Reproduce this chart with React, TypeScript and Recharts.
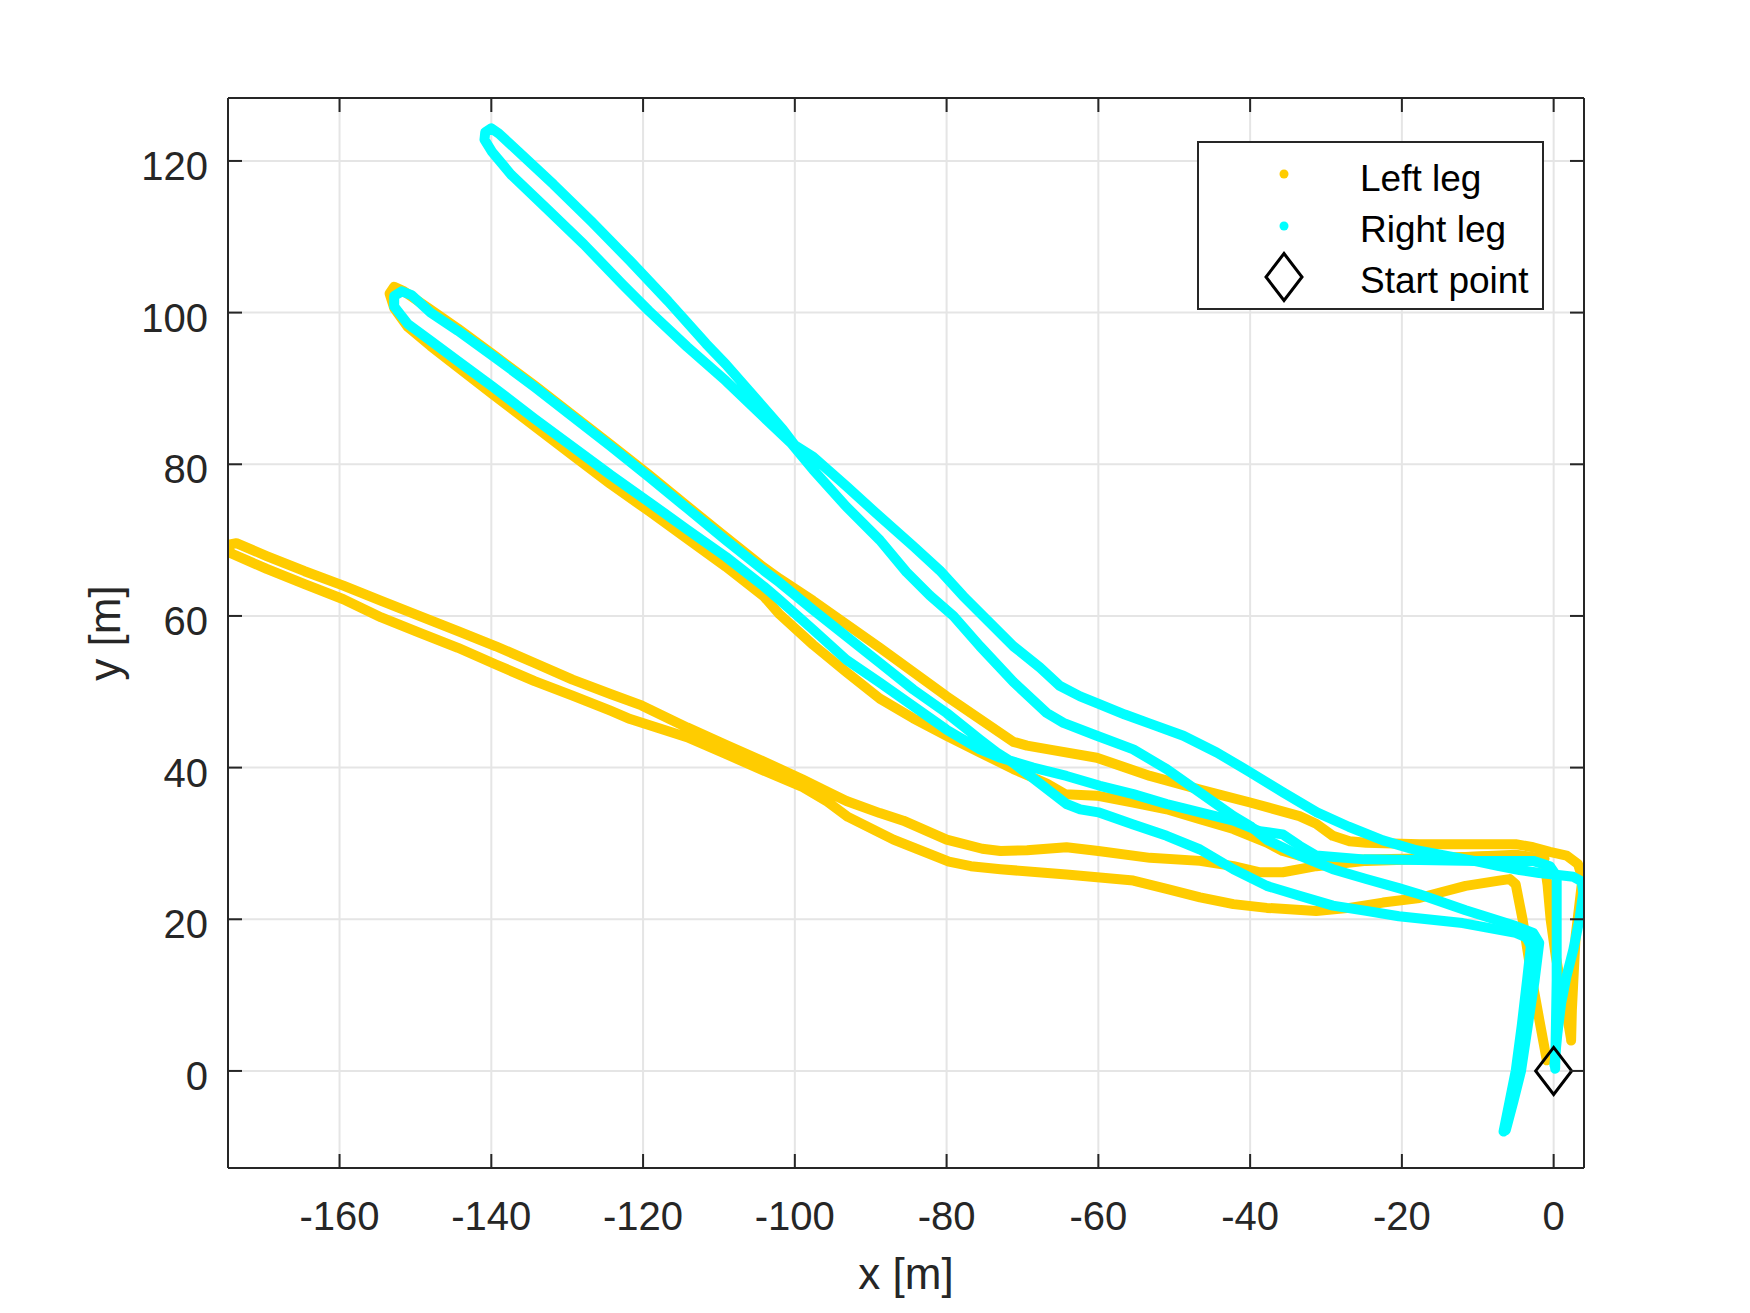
import {
  CartesianGrid,
  ComposedChart,
  Legend,
  Line,
  Scatter,
  XAxis,
  YAxis,
} from "recharts";

document.body.style.margin = "0";

const INK = "#262626";
const FONT = '"Liberation Sans", Arial, Helvetica, sans-serif';
const LEFT_COLOR = "#FFCC00";
const RIGHT_COLOR = "#00FFFF";

const xTicks = [-160, -140, -120, -100, -80, -60, -40, -20, 0];
const yTicks = [0, 20, 40, 60, 80, 100, 120];
const xDomain = [-174.7, 4.0];
const yDomain = [-12.8, 128.3];

const legendLabels = ["Left leg", "Right leg", "Start point"];

// left leg, first walk (tip near -175, 69)
const leftLegWalk1: [number, number][] = [
  [-1.2, 28.0], [-5, 28.5], [-11.6, 28.2], [-17.7, 27.9], [-24.7, 27.7], [-31.3, 27],
  [-35.7, 26.2], [-38.7, 26.2], [-42.2, 27], [-46.6, 27.7], [-53.2, 28.1], [-60, 29],
  [-64.2, 29.5], [-69.4, 29.1], [-72.9, 29], [-75.3, 29.3], [-80, 30.5], [-85.7, 33],
  [-88.8, 34], [-93.2, 35.6], [-95.7, 36.8], [-99.1, 38.5], [-104.1, 40.8], [-109.1, 43],
  [-114.2, 45.3], [-120.2, 48.2], [-124.3, 49.7], [-129.3, 51.6], [-134.3, 53.8],
  [-139.4, 56], [-144.4, 58], [-149.5, 60], [-154.5, 62], [-159.5, 64], [-164.6, 65.9],
  [-169.6, 67.9], [-173.6, 69.6], [-174.6, 69.4], [-174.4, 68.3], [-169.6, 66.2],
  [-164.6, 64.2], [-159.5, 62.2], [-154.5, 59.8], [-149.5, 57.8], [-144.4, 55.8],
  [-139.4, 53.6], [-134.3, 51.4], [-129.3, 49.5], [-124.3, 47.5], [-121.7, 46.4],
  [-114.2, 44], [-109.1, 41.8], [-104.1, 39.6], [-99.1, 37.5], [-95.7, 35.5], [-93, 33.5],
  [-87, 30.5], [-79.7, 27.6], [-76.8, 27], [-72.9, 26.6], [-64.2, 25.9], [-55.4, 25.1],
  [-51, 24], [-46.6, 22.9], [-42.2, 22], [-37.8, 21.5], [-31.3, 21.1], [-26.9, 21.5],
  [-22.5, 22.2], [-17.7, 22.8], [-11.6, 24.4], [-7.2, 25.1], [-5.8, 25.3], [-5, 24.6],
  [-4.1, 20], [-3.4, 15.6], [-2.7, 11.2], [-1.9, 6.8], [-0.9, 1.4],
];

// left leg, second walk (tip near -153, 103)
const leftLegWalk2: [number, number][] = [
  [2.3, 4], [2.4, 8], [2.6, 12], [2.9, 17.8], [3.4, 22], [3.8, 25.4], [3.2, 27.3],
  [1.7, 28.4], [-0.5, 28.9], [-2.7, 29.5], [-5, 29.9], [-11.6, 29.9], [-17.7, 29.9],
  [-24.7, 30.1], [-26.9, 30.3], [-29.1, 31], [-31.3, 32.6], [-33.5, 33.6], [-40, 35.4],
  [-46.6, 37.1], [-53.2, 38.9], [-60.2, 41.3], [-66, 42.3], [-69.4, 42.9], [-71.2, 43.4],
  [-75.6, 46.4], [-80, 49.4], [-84.4, 52.6], [-88.8, 55.8], [-93.2, 58.9], [-97.6, 62],
  [-102, 64.9], [-104.1, 66.4], [-109.1, 70.4], [-114.2, 74.5], [-119.2, 78.6],
  [-124.3, 82.6], [-129.3, 86.5], [-134.3, 90.4], [-139.4, 94.2], [-144.4, 97.9],
  [-148, 100.4], [-151.5, 102.8], [-152.8, 103.4], [-153.4, 102.5], [-152.8, 100.6],
  [-151, 98.1], [-148, 95.6], [-144.4, 92.8], [-139.9, 89.3], [-134.3, 85], [-129.3, 81.2],
  [-124.3, 77.4], [-119.2, 73.8], [-114.2, 70.2], [-109.1, 66.5], [-104.1, 62.6],
  [-102, 60.2], [-97.6, 56.2], [-93.2, 52.6], [-88.8, 49.1], [-84.4, 46.5], [-80, 44.2],
  [-75.6, 42], [-71.2, 39.8], [-66.8, 37.9], [-64.4, 36.5], [-60.2, 36.3], [-55.4, 35.4],
  [-51, 34.5], [-46.6, 33.2], [-42.2, 31.9], [-37.8, 30.1], [-35.7, 29], [-33.5, 28.4],
  [-29.1, 27.8], [-17.7, 28], [-8, 28.3], [-3, 28.1], [-1.2, 27.3], [-0.8, 24.5],
  [-0.4, 20], [0.3, 15], [1.2, 10], [1.9, 6.5], [2.3, 4.2],
];

// right leg, first walk (tip near -140, 124)
const rightLegWalkA: [number, number][] = [
  [0.1, 0.8], [0.5, 5], [1.0, 9], [1.7, 12.5], [2.6, 16], [3.4, 20], [3.9, 23.5],
  [3.7, 25.0], [2.6, 25.6], [0, 25.9], [-1.9, 26.1], [-4.5, 26.5], [-7.2, 27.0],
  [-10, 27.6], [-13.7, 28.3], [-18.1, 29.1], [-22.5, 30.4], [-27, 32.2], [-31.2, 34.1],
  [-35.6, 36.7], [-40, 39.4], [-44.4, 42], [-48.8, 44.2], [-53.2, 45.8], [-56.5, 47.0],
  [-60.2, 48.5], [-62.4, 49.4], [-65.1, 50.8], [-67.7, 53.2], [-71.2, 56], [-74.7, 59.5],
  [-77.8, 62.6], [-80.9, 66], [-84.4, 69.2], [-88.8, 73.1], [-93.2, 77.1], [-97.6, 81],
  [-100, 82.5], [-101.6, 84.6], [-105.6, 89.2], [-109.1, 93.2], [-111.7, 95.9],
  [-116.7, 101.5], [-121.7, 106.8], [-126.8, 112], [-131.8, 116.9], [-136.4, 121.2],
  [-139, 123.6], [-140, 124.3], [-140.8, 123.8], [-140.9, 122.8], [-139.9, 121.2],
  [-137.4, 118.2], [-132.8, 113.8], [-127.8, 109], [-122.7, 103.7], [-119.2, 100.2],
  [-114.2, 95.5], [-109.1, 91], [-104.1, 86.2], [-100.5, 82.8], [-97.6, 79.3],
  [-93.2, 74.4], [-88.8, 70], [-85.3, 65.8], [-82.2, 62.7], [-79.1, 60], [-75.6, 56],
  [-71.2, 51.3], [-66.8, 47.2], [-64.6, 45.9], [-60.2, 44.2], [-55.4, 42.4], [-51, 39.8],
  [-46.6, 36.7], [-42.2, 33.6], [-40, 32.3], [-37.8, 30.5], [-33.5, 28.4], [-29.1, 26.6],
  [-24.7, 25.3], [-20.4, 24.1], [-17.7, 23.3], [-11.6, 21.2], [-5, 19.1], [-2.7, 18.2],
  [-1.9, 16.9], [-2.5, 12], [-3.4, 6], [-4.3, 0], [-5.3, -4], [-6.3, -7.8],
];

// right leg, second walk (tip near -153, 102)
const rightLegWalkB: [number, number][] = [
  [0.2, 0.3], [0.3, 6], [0.4, 12], [0.4, 18], [0.4, 23], [0.4, 25.7], [-0.5, 27.0],
  [-2.7, 27.7], [-10, 27.7], [-17.7, 27.8], [-25, 27.9], [-31.3, 28.4], [-33.5, 29.7],
  [-35.7, 31.2], [-38.7, 31.6], [-42.2, 33], [-46.6, 34.1], [-51, 35.2], [-55.4, 36.5],
  [-59.8, 37.6], [-64.2, 38.9], [-68.6, 40], [-72.9, 41.3], [-75.6, 42.4], [-80, 45],
  [-84.4, 48.1], [-88.8, 51.2], [-93.2, 54.2], [-97.6, 58.2], [-102, 62.1], [-104.1, 63.9],
  [-109.1, 67.8], [-114.2, 71.4], [-119.2, 75], [-124.3, 78.6], [-129.3, 82.3],
  [-134.3, 86], [-139.9, 90.3], [-144.4, 93.6], [-148, 96.3], [-151, 98.5],
  [-152.8, 100.8], [-152.8, 102.2], [-151.8, 102.8], [-150.5, 102.3], [-148, 100],
  [-144.4, 97.6], [-139.4, 94], [-134.3, 90.2], [-129.3, 86.3], [-124.3, 82.4],
  [-119.2, 78.3], [-114.2, 74.2], [-109.1, 70], [-104.1, 66], [-102, 64.4], [-97.6, 60.8],
  [-93.2, 57.3], [-88.8, 53.8], [-84.4, 50.3], [-80, 47.2], [-75.6, 43.7], [-73.4, 42],
  [-71.2, 40.6], [-68.6, 38.6], [-64.2, 35.2], [-62.4, 34.5], [-60, 34.1], [-55.4, 32.5],
  [-51, 31], [-46.6, 29.2], [-42.2, 26.6], [-37.8, 24.4], [-33.5, 23.1], [-29.1, 21.8],
  [-24.7, 21.1], [-20.4, 20.4], [-12, 19.5], [-5, 18.2], [-3.6, 17.6], [-3, 16.5],
  [-3.5, 12], [-4.2, 6], [-5, 0], [-5.8, -4], [-6.6, -8],
];

const startPoint: [number, number][] = [[0, 0]];

const toPoints = (pts: [number, number][]) => pts.map(([x, y]) => ({ x, y }));

function BottomTick({ x, y, payload }: any) {
  return (
    <g>
      <line x1={x} y1={y} x2={x} y2={y - 14} stroke={INK} strokeWidth={2} />
      <text x={x} y={y + 62} textAnchor="middle" fontSize={40} fill={INK} fontFamily={FONT}>
        {payload.value}
      </text>
    </g>
  );
}

function TopTick({ x, y }: any) {
  return <line x1={x} y1={y} x2={x} y2={y + 14} stroke={INK} strokeWidth={2} />;
}

function LeftTick({ x, y, payload }: any) {
  return (
    <g>
      <line x1={x} y1={y} x2={x + 14} y2={y} stroke={INK} strokeWidth={2} />
      <text x={x - 20} y={y + 19} textAnchor="end" fontSize={40} fill={INK} fontFamily={FONT}>
        {payload.value}
      </text>
    </g>
  );
}

function RightTick({ x, y }: any) {
  return <line x1={x} y1={y} x2={x - 14} y2={y} stroke={INK} strokeWidth={2} />;
}

function Diamond({ cx, cy }: any) {
  return (
    <polygon
      points={`${cx},${cy - 23.5} ${cx + 18},${cy} ${cx},${cy + 23.5} ${cx - 18},${cy}`}
      fill="none"
      stroke="#000"
      strokeWidth={3}
    />
  );
}

function LegendBox() {
  const rows = [33, 85, 136];
  const baselines = [50, 101, 152];
  return (
    <svg width={347} height={169} style={{ display: "block" }}>
      <rect x={1} y={1} width={345} height={167} fill="#fff" stroke={INK} strokeWidth={2} />
      <circle cx={87} cy={rows[0]} r={4.5} fill={LEFT_COLOR} />
      <circle cx={87} cy={rows[1]} r={4.5} fill={RIGHT_COLOR} />
      <Diamond cx={87} cy={rows[2]} />
      {legendLabels.map((label, i) => (
        <text key={label} x={163} y={baselines[i]} fontSize={37} fill="#000" fontFamily={FONT}>
          {label}
        </text>
      ))}
    </svg>
  );
}

const lineStyle = {
  type: "linear" as const,
  strokeWidth: 10,
  strokeLinejoin: "round" as const,
  strokeLinecap: "round" as const,
  dot: false,
  activeDot: false,
  isAnimationActive: false,
};

export default function App() {
  return (
    <ComposedChart
      width={1750}
      height={1313}
      margin={{ top: 97, right: 165, bottom: 65, left: 128 }}
      style={{ background: "#fff" }}
    >
      <CartesianGrid stroke="#e5e5e5" strokeWidth={2} />
      <XAxis
        dataKey="x"
        type="number"
        domain={xDomain}
        ticks={xTicks}
        allowDataOverflow
        height={80}
        tickSize={0}
        tickMargin={0}
        tickLine={false}
        axisLine={{ stroke: INK, strokeWidth: 2 }}
        tick={<BottomTick />}
        interval={0}
        label={({ viewBox }: any) => (
          <text
            x={viewBox.x + viewBox.width / 2}
            y={viewBox.y + 121}
            textAnchor="middle"
            fontSize={44}
            fill={INK}
            fontFamily={FONT}
          >
            x [m]
          </text>
        )}
      />
      <XAxis
        xAxisId="top"
        orientation="top"
        dataKey="x"
        type="number"
        domain={xDomain}
        ticks={xTicks}
        allowDataOverflow
        height={1}
        tickSize={0}
        tickMargin={0}
        tickLine={false}
        axisLine={{ stroke: INK, strokeWidth: 2 }}
        tick={<TopTick />}
        interval={0}
      />
      <YAxis
        dataKey="y"
        type="number"
        domain={yDomain}
        ticks={yTicks}
        allowDataOverflow
        width={100}
        tickSize={0}
        tickMargin={0}
        tickLine={false}
        axisLine={{ stroke: INK, strokeWidth: 2 }}
        tick={<LeftTick />}
        interval={0}
        label={({ viewBox }: any) => {
          const cy = viewBox.y + viewBox.height / 2;
          return (
            <text
              x={120}
              y={cy}
              transform={`rotate(-90, 120, ${cy})`}
              textAnchor="middle"
              fontSize={44}
              fill={INK}
              fontFamily={FONT}
            >
              y [m]
            </text>
          );
        }}
      />
      <YAxis
        yAxisId="right"
        orientation="right"
        dataKey="y"
        type="number"
        domain={yDomain}
        ticks={yTicks}
        allowDataOverflow
        width={1}
        tickSize={0}
        tickMargin={0}
        tickLine={false}
        axisLine={{ stroke: INK, strokeWidth: 2 }}
        tick={<RightTick />}
        interval={0}
      />
      <Line data={toPoints(leftLegWalk1)} dataKey="y" name="Left leg" stroke={LEFT_COLOR} {...lineStyle} />
      <Line data={toPoints(leftLegWalk2)} dataKey="y" name="Left leg 2" stroke={LEFT_COLOR} {...lineStyle} />
      <Line data={toPoints(rightLegWalkA)} dataKey="y" name="Right leg" stroke={RIGHT_COLOR} {...lineStyle} />
      <Line data={toPoints(rightLegWalkB)} dataKey="y" name="Right leg 2" stroke={RIGHT_COLOR} {...lineStyle} />
      {/* start marker sits on the top/right axes so those axes have a series */}
      <Scatter
        data={toPoints(startPoint)}
        dataKey="y"
        name="Start point"
        xAxisId="top"
        yAxisId="right"
        shape={(p: any) => <Diamond cx={p.cx} cy={p.cy} />}
        isAnimationActive={false}
      />
      <Legend
        layout="vertical"
        align="center"
        verticalAlign="middle"
        content={<LegendBox />}
        wrapperStyle={{ left: 1197, top: 141, width: 347, height: 169 }}
      />
    </ComposedChart>
  );
}
